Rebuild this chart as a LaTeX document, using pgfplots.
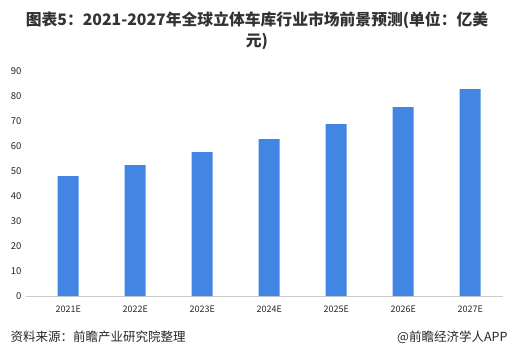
\documentclass[border=0pt]{standalone}
\usepackage{fontspec}
\setmainfont{Noto Sans CJK SC}
\usepackage{pgfplots}
\pgfplotsset{compat=1.18}
\definecolor{barblue}{RGB}{66,133,226}
\definecolor{txt}{RGB}{51,51,51}
\begin{document}
\begin{tikzpicture}
\path[use as bounding box] (0,0) rectangle (514bp,-363bp);
\node[anchor=base, font=\fontsize{15.8bp}{18bp}\selectfont\bfseries, text=txt] at (257bp,-25bp) {图表5：2021-2027年全球立体车库行业市场前景预测(单位：亿美};
\node[anchor=base, font=\fontsize{15.8bp}{18bp}\selectfont\bfseries, text=txt] at (257bp,-46bp) {元)};
\begin{axis}[
  at={(26bp,-296bp)}, anchor=south west,
  scale only axis, width=477bp, height=225bp,
  xmin=-0.63, xmax=6.49, ymin=0, ymax=90,
  ytick={0,10,...,90},
  xtick={0,...,6},
  xticklabels={2021E,2022E,2023E,2024E,2025E,2026E,2027E},
  axis y line=none,
  axis x line*=bottom,
  x axis line style={draw=black!20, line width=0.8pt, -},
  major tick length=0pt,
  /pgf/number format/assume math mode=true,
  tick label style={font=\fontsize{9bp}{10bp}\selectfont, text=black!85},
  xticklabel style={yshift=-6bp},
  ybar, bar width=21bp,
  clip=false,
]
\addplot[fill=barblue, draw=none] coordinates {(0,48.0) (1,52.4) (2,57.6) (3,62.8) (4,68.8) (5,75.6) (6,82.8)};
\end{axis}
\begin{axis}[
  at={(26bp,-296bp)}, anchor=south west,
  scale only axis, width=477bp, height=225bp,
  xmin=0, xmax=1, ymin=0, ymax=90,
  ytick={0,10,...,90},
  axis x line=none, axis y line*=left, y axis line style={draw=none},
  major tick length=0pt,
  /pgf/number format/assume math mode=true,
  yticklabel style={font=\fontsize{9.5bp}{11bp}\selectfont, text=black!85, xshift=-1bp},
]
\end{axis}
\node[anchor=west, font=\fontsize{12.5bp}{14bp}\selectfont, text=black!85] at (7bp,-337bp) {资料来源：前瞻产业研究院整理};
\node[anchor=east, font=\fontsize{12.5bp}{14bp}\selectfont, text=black!85] at (511bp,-337bp) {@前瞻经济学人APP};
\end{tikzpicture}
\end{document}
